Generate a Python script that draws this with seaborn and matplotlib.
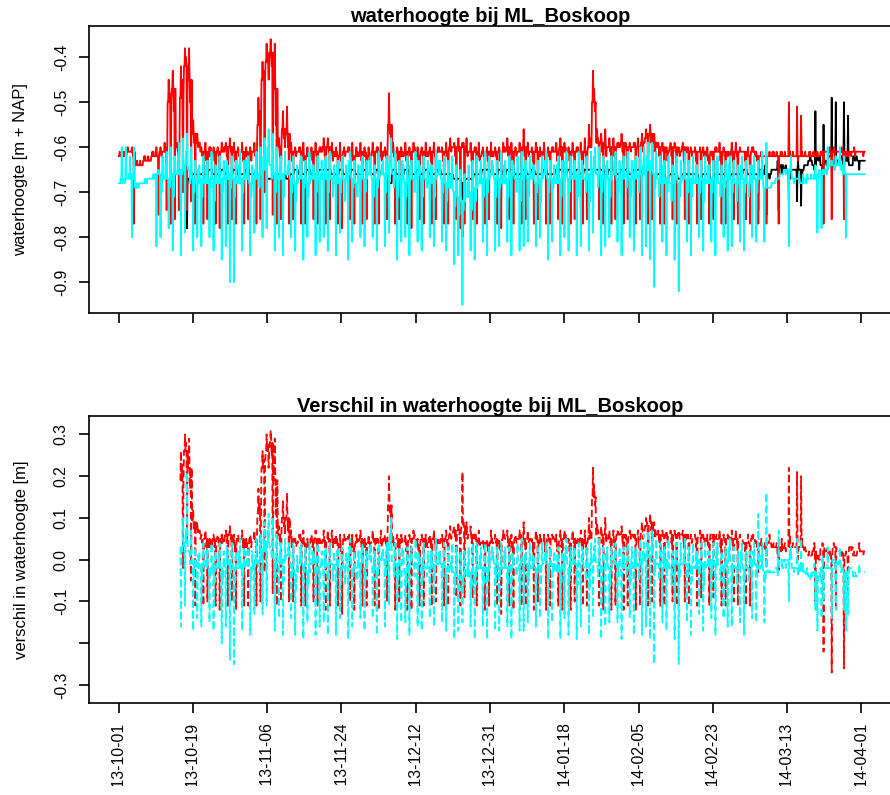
import numpy as np
import pandas as pd
import matplotlib
matplotlib.use("Agg")
import matplotlib.pyplot as plt
from matplotlib.patches import Rectangle
import seaborn as sns

# ---------------------------------------------------------------
# Water levels at ML_Boskoop, 2013-10-01 .. 2014-04-01, in cm + NAP.
# Per day: base level, a second mid-day reading, daily high and daily low.
# ---------------------------------------------------------------
start = pd.Timestamp("2013-10-01")
end = pd.Timestamp("2014-04-01")

red_level = [
    -62, -62, -61, -61, -64, -64, -63, -63, -62, -62,
    -61, -61, -50, -47, -60, -49, -42, -45, -57, -59,
    -61, -61, -62, -61, -61, -61, -60, -60, -61, -61,
    -61, -62, -61, -61, -55, -45, -41, -39, -47, -60,
    -56, -57, -61, -61, -61, -62, -62, -61, -61, -61,
    -60, -60, -61, -62, -62, -61, -61, -62, -62, -61,
    -62, -62, -61, -61, -62, -61, -55, -61, -61, -62,
    -61, -61, -61, -62, -61, -62, -61, -61, -61, -61,
    -61, -60, -60, -60, -60, -61, -61, -61, -62, -61,
    -61, -62, -61, -61, -61, -60, -61, -61, -61, -60,
    -61, -61, -61, -62, -61, -61, -61, -61, -60, -61,
    -61, -61, -61, -61, -61, -60, -50, -59, -59, -60,
    -60, -60, -60, -59, -60, -60, -60, -60, -59, -58,
    -57, -59, -60, -60, -61, -60, -60, -61, -60, -61,
    -61, -61, -61, -61, -62, -61, -61, -61, -61, -62,
    -61, -61, -61, -61, -62, -61, -62, -62, -62, -62,
    -62, -62, -62, -62, -62, -62, -62, -62, -62, -62,
    -62, -62, -61, -61, -61, -61, -61, -61, -62, -61,
    -61, -61, -61,
]
red_mid = [
    -62, -61, -61, -62, -63, -64, -62, -63, -61, -62,
    -62, -60, -48, -52, -61, -45, -40, -50, -59, -60,
    -62, -63, -60, -63, -62, -60, -62, -61, -63, -62,
    -63, -61, -63, -62, -52, -43, -39, -42, -55, -62,
    -58, -60, -63, -62, -60, -63, -61, -63, -62, -60,
    -62, -61, -63, -61, -63, -62, -60, -63, -61, -63,
    -61, -63, -62, -60, -63, -62, -57, -62, -63, -61,
    -63, -62, -60, -63, -62, -61, -63, -62, -60, -63,
    -62, -61, -62, -61, -59, -62, -63, -60, -63, -62,
    -63, -61, -62, -63, -60, -62, -63, -62, -60, -62,
    -62, -63, -60, -61, -63, -62, -60, -63, -62, -60,
    -63, -62, -60, -63, -62, -58, -47, -58, -61, -62,
    -61, -62, -59, -61, -62, -61, -59, -62, -61, -57,
    -59, -61, -62, -61, -63, -62, -61, -62, -63, -60,
    -62, -63, -60, -62, -63, -62, -60, -63, -62, -61,
    -63, -62, -61, -63, -62, -60, -63, -61, -62, -61,
    -61, -62, -61, -62, -61, -62, -63, -61, -62, -61,
    -61, -62, -62, -61, -62, -62, -61, -62, -61, -62,
    -62, -61, -62,
]
red_peak = [
    -61, -61, -60, -60, -63, -63, -62, -62, -61, -60,
    -60, -59, -45, -43, -59, -42, -38, -38, -54, -57,
    -60, -59, -60, -60, -60, -59, -59, -58, -59, -60,
    -59, -60, -60, -59, -49, -41, -37, -36, -37, -58,
    -52, -51, -59, -60, -60, -59, -60, -60, -59, -60,
    -58, -58, -59, -60, -59, -60, -60, -59, -60, -59,
    -60, -60, -59, -60, -59, -60, -48, -59, -60, -60,
    -59, -60, -59, -60, -60, -59, -60, -59, -60, -60,
    -59, -58, -59, -58, -59, -58, -59, -60, -59, -60,
    -60, -59, -60, -60, -59, -58, -59, -60, -59, -56,
    -59, -60, -59, -60, -59, -60, -60, -59, -58, -59,
    -60, -59, -60, -59, -58, -55, -43, -56, -57, -56,
    -58, -58, -59, -57, -59, -59, -59, -58, -57, -56,
    -55, -57, -59, -59, -60, -59, -59, -60, -59, -60,
    -60, -60, -61, -60, -60, -61, -60, -59, -60, -61,
    -59, -59, -60, -61, -60, -60, -61, -62, -62, -62,
    -61, -61, -61, -61, -50, -61, -51, -53, -61, -61,
    -61, -61, -61, -61, -60, -60, -61, -60, -61, -61,
    -60, -61, -61,
]
red_dip = [
    -62, -62, -61, -77, -64, -64, -63, -63, -62, -75,
    -61, -74, -77, -76, -74, -70, -74, -72, -77, -59,
    -77, -76, -62, -77, -78, -61, -77, -76, -77, -61,
    -77, -76, -61, -77, -76, -70, -45, -75, -77, -76,
    -60, -77, -76, -61, -77, -77, -62, -76, -77, -61,
    -77, -76, -62, -77, -78, -61, -76, -77, -62, -77,
    -76, -62, -77, -77, -61, -76, -64, -77, -76, -62,
    -77, -78, -61, -76, -77, -62, -77, -76, -61, -77,
    -77, -60, -76, -78, -77, -61, -76, -77, -62, -77,
    -76, -62, -77, -78, -61, -76, -77, -61, -77, -76,
    -61, -77, -76, -62, -77, -77, -61, -76, -77, -61,
    -77, -76, -61, -77, -76, -60, -52, -76, -77, -60,
    -77, -76, -60, -77, -76, -60, -77, -76, -59, -77,
    -76, -59, -77, -77, -61, -76, -77, -61, -76, -77,
    -61, -77, -76, -61, -77, -76, -61, -77, -77, -62,
    -76, -77, -61, -76, -77, -61, -77, -62, -77, -62,
    -62, -77, -62, -62, -62, -62, -62, -62, -62, -62,
    -62, -62, -77, -61, -76, -61, -61, -76, -62, -61,
    -61, -61, -61,
]

cyan_level = [
    -68, -67, -67, -66, -69, -68, -68, -67, -67, -66,
    -66, -67, -67, -66, -66, -65, -64, -65, -67, -68,
    -67, -68, -67, -67, -68, -67, -67, -66, -67, -68,
    -67, -67, -68, -67, -66, -65, -63, -64, -66, -67,
    -66, -66, -67, -68, -67, -67, -68, -67, -66, -67,
    -67, -66, -67, -68, -67, -67, -66, -67, -68, -67,
    -67, -66, -67, -67, -66, -66, -64, -66, -67, -67,
    -68, -67, -67, -66, -67, -67, -68, -67, -66, -67,
    -68, -69, -70, -71, -72, -71, -70, -69, -68, -67,
    -67, -66, -67, -67, -68, -67, -66, -67, -67, -66,
    -67, -67, -68, -67, -66, -67, -67, -68, -67, -66,
    -67, -67, -66, -67, -67, -66, -65, -66, -66, -67,
    -67, -66, -67, -67, -66, -67, -67, -66, -66, -65,
    -65, -66, -67, -68, -67, -68, -67, -68, -67, -67,
    -67, -68, -67, -67, -68, -67, -67, -68, -67, -67,
    -67, -68, -67, -67, -68, -67, -67, -67, -69, -69,
    -68, -67, -66, -65, -65, -67, -67, -68, -67, -67,
    -67, -66, -66, -65, -64, -64, -64, -65, -66, -66,
    -66, -66, -66,
]
cyan_mid = [
    -67, -68, -66, -67, -68, -68, -67, -67, -66, -66,
    -70, -64, -69, -71, -63, -66, -61, -68, -70, -65,
    -71, -64, -69, -72, -65, -70, -63, -69, -71, -64,
    -70, -63, -71, -65, -69, -62, -60, -67, -70, -64,
    -71, -64, -70, -72, -63, -69, -71, -64, -70, -66,
    -63, -70, -71, -64, -70, -72, -63, -69, -71, -64,
    -70, -63, -71, -69, -64, -70, -62, -69, -71, -63,
    -71, -64, -70, -63, -71, -69, -64, -71, -63, -70,
    -72, -66, -73, -75, -74, -68, -74, -72, -65, -71,
    -70, -63, -71, -69, -64, -71, -63, -70, -72, -64,
    -71, -64, -70, -72, -63, -70, -69, -64, -71, -63,
    -70, -64, -71, -63, -70, -72, -62, -69, -70, -64,
    -71, -63, -70, -64, -69, -71, -63, -70, -64, -62,
    -63, -69, -71, -64, -70, -72, -64, -71, -65, -70,
    -71, -64, -70, -72, -64, -70, -63, -71, -69, -64,
    -70, -72, -64, -70, -71, -64, -70, -65, -69, -69,
    -68, -67, -66, -66, -65, -68, -67, -68, -68, -67,
    -66, -67, -65, -66, -64, -65, -63, -66, -66, -66,
    -66, -66, -66,
]
cyan_peak = [
    -60, -60, -62, -60, -69, -68, -68, -67, -66, -65,
    -62, -61, -60, -62, -59, -58, -57, -60, -63, -64,
    -62, -63, -61, -64, -62, -63, -64, -62, -63, -61,
    -63, -62, -64, -61, -60, -58, -56, -57, -60, -62,
    -61, -63, -62, -64, -62, -63, -61, -64, -62, -63,
    -62, -61, -64, -63, -62, -64, -61, -63, -64, -62,
    -63, -62, -64, -61, -63, -62, -58, -61, -63, -64,
    -62, -63, -61, -64, -62, -63, -64, -61, -63, -62,
    -63, -62, -64, -65, -66, -64, -63, -62, -63, -61,
    -62, -64, -63, -61, -63, -62, -64, -62, -61, -63,
    -62, -64, -63, -62, -61, -63, -64, -62, -63, -61,
    -62, -63, -61, -64, -62, -61, -60, -60, -62, -63,
    -62, -61, -63, -62, -61, -63, -62, -60, -60, -59,
    -59, -61, -62, -63, -62, -64, -62, -63, -61, -63,
    -62, -64, -63, -62, -64, -63, -62, -64, -63, -62,
    -63, -64, -62, -63, -64, -62, -63, -61, -59, -69,
    -68, -67, -66, -65, -62, -67, -66, -66, -66, -66,
    -64, -65, -65, -60, -63, -62, -60, -62, -66, -66,
    -66, -66, -66,
]
cyan_dip = [
    -68, -67, -67, -80, -69, -68, -68, -67, -67, -82,
    -80, -67, -78, -83, -66, -84, -79, -65, -83, -80,
    -82, -68, -80, -83, -68, -85, -82, -90, -90, -68,
    -83, -67, -84, -79, -66, -80, -78, -64, -83, -80,
    -84, -66, -80, -83, -67, -85, -80, -67, -84, -81,
    -80, -83, -67, -84, -79, -67, -85, -81, -68, -80,
    -82, -66, -80, -83, -66, -82, -79, -66, -85, -81,
    -80, -84, -67, -81, -83, -67, -80, -82, -66, -81,
    -83, -69, -86, -84, -95, -71, -83, -85, -68, -81,
    -84, -66, -83, -82, -68, -81, -84, -67, -83, -82,
    -81, -67, -82, -80, -66, -85, -81, -68, -84, -80,
    -83, -67, -84, -82, -67, -83, -79, -66, -84, -82,
    -80, -66, -81, -84, -66, -80, -83, -66, -84, -82,
    -85, -91, -67, -81, -84, -68, -85, -92, -67, -81,
    -84, -68, -80, -83, -68, -81, -84, -68, -80, -83,
    -82, -68, -81, -83, -68, -80, -81, -67, -81, -69,
    -68, -67, -66, -65, -82, -67, -67, -68, -67, -67,
    -67, -79, -78, -65, -64, -64, -64, -64, -80, -66,
    -66, -66, -66,
]

# the black gauge starts on 2013-10-16
black_level = [None] * 15 + [
    -68, -68, -67, -66, -66,
    -66, -66, -65, -66, -66, -65, -66, -66, -65, -66,
    -66, -65, -66, -66, -66, -67, -67, -67, -66, -66,
    -66, -67, -66, -65, -66, -66, -65, -66, -66, -65,
    -65, -65, -66, -66, -65, -66, -66, -65, -66, -66,
    -65, -66, -66, -65, -66, -66, -68, -65, -66, -66,
    -65, -66, -66, -65, -66, -65, -66, -66, -65, -66,
    -66, -66, -67, -67, -68, -67, -67, -66, -66, -65,
    -65, -66, -66, -65, -66, -65, -65, -66, -66, -65,
    -66, -65, -66, -66, -65, -66, -66, -65, -65, -66,
    -65, -66, -65, -66, -65, -65, -65, -65, -65, -66,
    -65, -65, -66, -65, -65, -66, -65, -65, -66, -66,
    -66, -66, -66, -66, -67, -66, -66, -67, -66, -66,
    -66, -66, -67, -66, -66, -67, -66, -66, -66, -67,
    -66, -66, -66, -65, -66, -66, -66, -65, -66, -66,
    -65, -65, -64, -65, -65, -65, -65, -65, -64, -63,
    -64, -62, -64, -63, -62, -64, -63, -62, -63, -64,
    -62, -63, -63,
]
# excursions of the black gauge away from its base level (day index, cm)
black_06h_days = [84, 164, 166, 167]
black_06h_cm = [-80, -72, -72, -73]
black_12h_days = list(range(157, 183))
black_12h_cm = [
    -66, -64, -67, -65, -63, -66, -64, -67, -65, -63,
    -66, -64, -62, -65, -63, -66, -64, -62, -65, -63,
    -64, -62, -64, -63, -65, -63,
]
black_18h_days = [16, 156, 158, 161, 170, 172, 174, 175, 177, 178]
black_18h_cm = [-78, -74, -75, -74, -52, -55, -49, -50, -50, -53]

series_colors = {"black": "#000000", "red": "#ff0000", "cyan": "#00ffff"}

# ---------------------------------------------------------------
n_days = len(red_level)
for arr in (red_mid, red_peak, red_dip, cyan_level, cyan_mid, cyan_peak,
            cyan_dip, black_level):
    assert len(arr) == n_days, len(arr)

SLOTS = 8  # readings every 3 hours
days = pd.date_range(start, periods=n_days, freq="D")
hours = pd.to_timedelta(np.arange(SLOTS) * 3, unit="h")
times = (days.values[:, None] + hours.values[None, :]).ravel()


def day_samples(level, extremes):
    """Spread daily values over the 3-hourly slots: base level everywhere,
    the other daily readings at their own slots."""
    lv = np.asarray(level, dtype=float)
    out = np.repeat(lv[:, None], SLOTS, axis=1)
    for slot, values in extremes.items():
        out[:, slot] = np.asarray(values, dtype=float)
    return out.ravel() / 100.0


def with_overrides(base, idx, vals):
    out = base.copy()
    out[idx] = vals
    return out


red = day_samples(red_level, {2: red_peak, 4: red_mid, 6: red_dip})
cyan = day_samples(cyan_level, {2: cyan_dip, 4: cyan_mid, 6: cyan_peak})
b_lv = np.array([np.nan if v is None else v for v in black_level], dtype=float)
black = day_samples(b_lv, {
    2: with_overrides(b_lv, black_06h_days, black_06h_cm),
    4: with_overrides(b_lv, black_12h_days, black_12h_cm),
    6: with_overrides(b_lv, black_18h_days, black_18h_cm),
})

levels = pd.concat([
    pd.DataFrame({"time": times, "value": black, "series": "black"}),
    pd.DataFrame({"time": times, "value": red, "series": "red"}),
    pd.DataFrame({"time": times, "value": cyan, "series": "cyan"}),
], ignore_index=True).dropna()

diffs = pd.concat([
    pd.DataFrame({"time": times, "value": red - black, "series": "red"}),
    pd.DataFrame({"time": times, "value": cyan - black, "series": "cyan"}),
], ignore_index=True).dropna()

# ---------------------------------------------------------------
sns.set_theme(style="ticks")
plt.rcParams["font.family"] = ["Liberation Sans", "DejaVu Sans"]
plt.rcParams["axes.unicode_minus"] = False
plt.rcParams["axes.edgecolor"] = "black"
plt.rcParams["axes.linewidth"] = 1.2
plt.rcParams["text.color"] = "black"
plt.rcParams["axes.titlecolor"] = "black"
plt.rcParams["axes.labelcolor"] = "black"

W, H = 890, 795
fig = plt.figure(figsize=(W / 100, H / 100), dpi=100)
left_px, right_px = 89, 891
ax1 = fig.add_axes([left_px / W, 1 - 313.3 / H, (right_px - left_px) / W, (313.3 - 25.7) / H])
ax2 = fig.add_axes([left_px / W, 1 - 703 / H, (right_px - left_px) / W, (703 - 416) / H])

sns.lineplot(data=levels, x="time", y="value", hue="series",
             hue_order=["black", "red", "cyan"], palette=series_colors,
             estimator=None, sort=False, linewidth=1.3, legend=False, ax=ax1)
sns.lineplot(data=diffs, x="time", y="value", hue="series",
             hue_order=["red", "cyan"], palette=series_colors,
             style="series", dashes={"red": (4, 2), "cyan": (4, 2)},
             estimator=None, sort=False, linewidth=1.3, legend=False, ax=ax2)

span = end - start
tick_times = [start + span * k / 10 for k in range(11)]
pad_t = span * 0.04
for ax in (ax1, ax2):
    ax.set_xlim(start - pad_t, end + pad_t)
    ax.set_xticks(tick_times)
    ax.tick_params(axis="both", direction="out", length=7, width=1.2,
                   color="black", labelsize=11.3, labelcolor="black")
    ax.tick_params(axis="y", pad=7.5)
    ax.set_xlabel("")
    ax.grid(False)
    for s in ax.spines.values():
        s.set_linewidth(1.2)
        s.set_color("black")

ax1.set_xticklabels([""] * len(tick_times))
ax2.set_xticklabels([t.strftime("%Y-%m-%d") for t in tick_times], rotation=90)
ax2.tick_params(axis="x", pad=7)

ax1.set_ylim(-0.969, -0.330)
y1_ticks = [-0.9, -0.8, -0.7, -0.6, -0.5, -0.4]
ax1.set_yticks(y1_ticks, [f"{v:.1f}" for v in y1_ticks], rotation=90, va="center")

ax2.set_ylim(-0.343, 0.344)
y2_ticks = [-0.3, -0.2, -0.1, 0.0, 0.1, 0.2, 0.3]
y2_labels = ["-0.3", "", "-0.1", "0.0", "0.1", "0.2", "0.3"]
ax2.set_yticks(y2_ticks, y2_labels, rotation=90, va="center")

ax1.set_ylabel("waterhoogte [m + NAP]", fontsize=12)
ax2.set_ylabel("verschil in waterhoogte [m]", fontsize=12)
for ax in (ax1, ax2):
    ax.yaxis.set_label_coords(-0.0754, 0.5)

ax1.set_title("waterhoogte bij ML_Boskoop", fontsize=14.5, fontweight="bold", pad=2.2)
ax2.set_title("Verschil in waterhoogte bij ML_Boskoop", fontsize=14.5, fontweight="bold", pad=2.2)

# the device region stops just above the lower edge; the date labels run past it
fig.add_artist(Rectangle((0, 0), 1, 9 / H, transform=fig.transFigure,
                         facecolor="white", edgecolor="none", zorder=10))

fig.savefig("out.png", dpi=100)
